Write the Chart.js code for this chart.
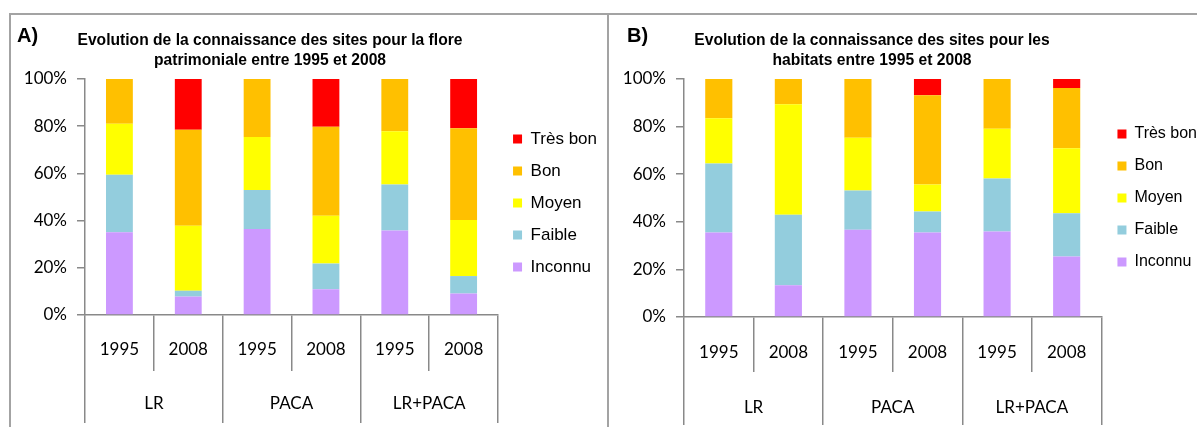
<!DOCTYPE html>
<html>
<head>
<meta charset="utf-8">
<script src="https://cdn.jsdelivr.net/npm/chart.js@4/dist/chart.umd.min.js"></script>
<style>
body{margin:0;width:1197px;height:427px;overflow:hidden;position:relative;background:#fff;font-family:"Liberation Sans",Arial,sans-serif}
.frame{position:absolute;top:13px;height:430px;border-top:2px solid #a3a3a3;border-left:2px solid #a3a3a3}
.tag{position:absolute;top:24px;font-weight:bold;font-size:20px}
.title{position:absolute;top:30px;width:520px;text-align:center;font-weight:bold;font-size:17px;line-height:19.5px;transform:scaleX(0.92)}
canvas{position:absolute;top:15px}
</style>
</head>
<body>
<div class="frame" style="left:9px;width:598px"></div>
<div class="frame" style="left:607px;width:600px"></div>
<canvas id="chartA" width="596" height="412" style="left:11px"></canvas>
<canvas id="chartB" width="598" height="412" style="left:609px"></canvas>
<div class="tag" style="left:17px">A)</div>
<div class="tag" style="left:627px">B)</div>
<div class="title" style="left:10px">Evolution de la connaissance des sites pour la flore<br>patrimoniale entre 1995 et 2008</div>
<div class="title" style="left:612px">Evolution de la connaissance des sites pour les<br>habitats entre 1995 et 2008</div>
<script>
const years = ['1995', '2008', '1995', '2008', '1995', '2008'];
const regions = ['LR', 'PACA', 'LR+PACA'];
const seriesNames = ['Inconnu', 'Faible', 'Moyen', 'Bon', 'Très bon'];
const colors = ['#CC99FF', '#93CDDD', '#FFFF00', '#FFC000', '#FF0000'];

// A) flore patrimoniale (%)
const floreInconnu = [35.1, 7.8, 36.4, 10.9, 35.8, 9.1];
const floreFaible = [24.3, 2.5, 16.6, 10.9, 19.5, 7.4];
const floreMoyen = [21.6, 27.5, 22.4, 20.3, 22.6, 23.8];
const floreBon = [19.0, 40.7, 24.6, 37.7, 22.1, 38.8];
const floreTresBon = [0, 21.5, 0, 20.2, 0, 20.9];

// B) habitats (%)
const habInconnu = [35.5, 13.3, 36.7, 35.5, 35.9, 25.4];
const habFaible = [29.0, 29.7, 16.4, 8.8, 22.3, 18.2];
const habMoyen = [19.0, 46.4, 22.2, 11.4, 20.9, 27.3];
const habBon = [16.5, 10.6, 24.7, 37.5, 20.9, 25.3];
const habTresBon = [0, 0, 0, 6.8, 0, 3.8];

const axisGrey = '#898989';
const tickFont = {family: 'Lato', size: 17};

function makeChart(id, series, o) {
  new Chart(document.getElementById(id), {
    type: 'bar',
    data: {
      labels: years,
      datasets: series.map((d, i) => ({
        label: seriesNames[i],
        data: d,
        backgroundColor: colors[i],
        barPercentage: 0.39,
        categoryPercentage: 1
      }))
    },
    options: {
      responsive: false,
      animation: false,
      layout: {padding: {top: 64, right: 0, left: 0, bottom: 0}},
      plugins: {
        tooltip: {enabled: false},
        legend: {
          position: 'right',
          fullSize: false,
          reverse: true,
          title: {display: o.legendShift > 0, text: '', font: {size: o.legendShift}, padding: 0},
          labels: {boxWidth: 9, boxHeight: 9, padding: o.legPad, color: '#000', font: {family: 'Liberation Sans', size: o.legSize}}
        }
      },
      scales: {
        // years, with short dividers
        x: {
          stacked: true,
          offset: true,
          grid: {offset: true, drawOnChartArea: false, tickLength: o.yearTick, color: axisGrey, lineWidth: 1.5},
          border: {color: axisGrey, width: 1.5},
          ticks: {padding: o.yearPad, color: '#000', font: tickFont, maxRotation: 0, autoSkip: false},
          afterFit: s => { s.height = o.yearTick; }
        },
        // regions, long dividers below
        xg: {
          type: 'category',
          labels: regions,
          position: 'bottom',
          weight: 1,
          offset: true,
          grid: {offset: true, drawOnChartArea: false, tickLength: o.groupTick, color: axisGrey, lineWidth: 1.5},
          border: {display: false},
          ticks: {padding: o.groupPad, color: '#000', font: tickFont, maxRotation: 0},
          afterFit: s => { s.height = o.groupH; }
        },
        y: {
          stacked: true,
          min: 0,
          max: 100,
          ticks: {stepSize: 20, callback: v => v + '%', padding: 10, color: '#000', font: tickFont},
          grid: {drawOnChartArea: false, tickLength: 8, color: axisGrey, lineWidth: 1.5},
          border: {color: axisGrey, width: 1.5},
          afterFit: s => { s.width = o.yWidth; }
        }
      }
    }
  });
}

makeChart('chartA', [floreInconnu, floreFaible, floreMoyen, floreBon, floreTresBon],
  {yWidth: 74, yearTick: 56, yearPad: -32, groupTick: 52, groupPad: -30, groupH: 56, legendShift: 10, legPad: 15, legSize: 17});
makeChart('chartB', [habInconnu, habFaible, habMoyen, habBon, habTresBon],
  {yWidth: 75, yearTick: 55, yearPad: -30, groupTick: 53, groupPad: -28, groupH: 55, legendShift: 0, legPad: 16, legSize: 16});
</script>
</body>
</html>
